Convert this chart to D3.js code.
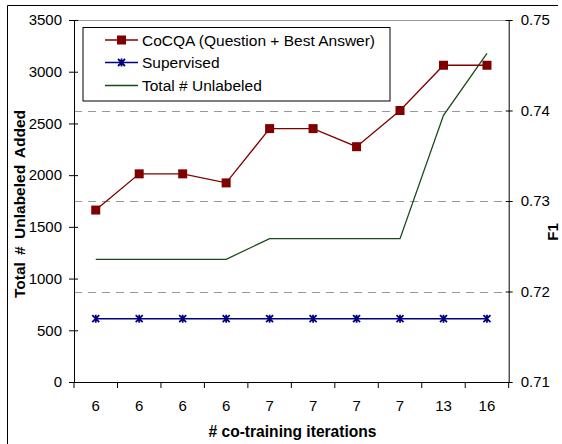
<!DOCTYPE html>
<html><head><meta charset="utf-8">
<script src="https://cdn.jsdelivr.net/npm/d3@7"></script>
<style>
html,body{margin:0;padding:0;background:#fff;}
svg{display:block;font-family:"Liberation Sans",Arial,sans-serif;}
</style></head>
<body>
<script>
const xLabels = ["6","6","6","6","7","7","7","7","13","16"];
const cocqaF1 = [0.729,0.733,0.733,0.732,0.738,0.738,0.736,0.740,0.745,0.745];
const supervisedF1 = [0.717,0.717,0.717,0.717,0.717,0.717,0.717,0.717,0.717,0.717];
const totalUnlabeled = [1186,1186,1186,1186,1386,1386,1386,1386,2578,3178];
const leftTicks = [0,500,1000,1500,2000,2500,3000,3500];
const rightTicks = [0.71,0.72,0.73,0.74,0.75];
const seriesNames = ["CoCQA (Question + Best Answer)","Supervised","Total # Unlabeled"];

const W=562,H=444;
const svg=d3.select("body").append("svg").attr("width",W).attr("height",H);
const X0=74,X1=508.7,YT=20,YB=382;

const x=d3.scaleBand().domain(d3.range(xLabels.length)).range([X0,X1]);
const yL=d3.scaleLinear().domain([0,3500]).range([YB,YT]);
const yR=d3.scaleLinear().domain([0.71,0.75]).range([YB,YT]);
const cx=i=>x(i)+x.bandwidth()/2;

// outer border (only left/top visible)
svg.append("line").attr("x1",7.5).attr("x2",7.5).attr("y1",5.5).attr("y2",H).attr("stroke","#000");
svg.append("line").attr("x1",7.5).attr("x2",558).attr("y1",5.5).attr("y2",5.5).attr("stroke","#000");

// gridlines (from right axis ticks)
rightTicks.forEach(t=>{
  if(t===0.71) return;
  const y=Math.round(yR(t))+0.5;
  svg.append("line").attr("x1",X0).attr("x2",X1).attr("y1",y).attr("y2",y)
    .attr("stroke","#999").attr("stroke-width",1)
    .attr("stroke-dasharray",t===0.75?null:"8,6");
});

// axes
const fs=15;
const gL=svg.append("g").attr("transform",`translate(${X0},0)`)
  .call(d3.axisLeft(yL).tickValues(leftTicks).tickFormat(d3.format("d")).tickSize(5).tickPadding(7).tickSizeOuter(0));
gL.selectAll(".tick line").attr("x2",-5).attr("x1",4);
const gR=svg.append("g").attr("transform",`translate(${X1},0)`)
  .call(d3.axisRight(yR).tickValues(rightTicks).tickSize(4).tickPadding(8).tickFormat(d3.format(".2f")).tickSizeOuter(0));
gR.selectAll(".tick line").attr("x1",-3).attr("x2",4);
const gB=svg.append("g").attr("transform",`translate(0,${YB})`)
  .call(d3.axisBottom(x).tickValues([]).tickSizeOuter(0));
// bottom tick marks at band edges
const edges=d3.range(xLabels.length+1).map(i=>X0+i*x.bandwidth());
gB.selectAll(".edge").data(edges).join("line").attr("class","edge")
  .attr("x1",d=>d).attr("x2",d=>d).attr("y1",0).attr("y2",6).attr("stroke","#000");
gB.selectAll(".lbl").data(xLabels).join("text").attr("class","lbl")
  .attr("x",(d,i)=>cx(i)).attr("y",29).attr("text-anchor","middle")
  .attr("font-size",fs).attr("fill","#000").text(d=>d);
[gL,gR,gB].forEach(g=>{
  g.selectAll("text").attr("font-size",fs).attr("fill","#000").attr("font-family","Liberation Sans, Arial, sans-serif");
  g.selectAll("path,line").attr("stroke","#000");
});

// titles
svg.append("text").attr("x",292.5).attr("y",437).attr("text-anchor","middle")
  .attr("font-size",15.6).attr("font-weight","bold").text("# co-training iterations");
svg.append("text").attr("transform","translate(25,204) rotate(-90)").attr("text-anchor","middle")
  .attr("font-size",15.5).attr("font-weight","bold").attr("word-spacing",3).text("Total # Unlabeled Added");
svg.append("text").attr("transform","translate(558,232) rotate(-90)").attr("text-anchor","middle")
  .attr("font-size",15).attr("font-weight","bold").text("F1");

// series
const red="#800000",navy="#000080",green="#1a4a1a";
const lineR=d3.line().x((d,i)=>cx(i)).y(d=>yR(d));
const lineL=d3.line().x((d,i)=>cx(i)).y(d=>yL(d));

svg.append("path").attr("d",lineL(totalUnlabeled)).attr("fill","none").attr("stroke",green).attr("stroke-width",1.3);
svg.append("path").attr("d",lineR(supervisedF1)).attr("fill","none").attr("stroke",navy).attr("stroke-width",1.5);
svg.append("path").attr("d",lineR(cocqaF1)).attr("fill","none").attr("stroke",red).attr("stroke-width",1.3);

function star(g,xx,yy,s){
  const p=`M${xx-s},${yy-s}L${xx+s},${yy+s}M${xx-s},${yy+s}L${xx+s},${yy-s}M${xx},${yy-s-0.5}L${xx},${yy+s+0.5}`;
  g.append("path").attr("d",p).attr("stroke",navy).attr("stroke-width",1.8).attr("fill","none");
}
const gs=svg.append("g");
supervisedF1.forEach((d,i)=>star(gs,cx(i),yR(d),3.5));
svg.selectAll(".sq").data(cocqaF1).join("rect").attr("class","sq")
  .attr("x",(d,i)=>cx(i)-4.5).attr("y",d=>yR(d)-4.5).attr("width",9).attr("height",9).attr("fill",red);

// legend
const lg=svg.append("g");
lg.append("rect").attr("x",83).attr("y",27.5).attr("width",307).attr("height",73.5)
  .attr("fill","#fff").attr("stroke","#000").attr("stroke-width",1);
const ly=[40,62.5,85.5];
const cols=[red,navy,green];
seriesNames.forEach((n,i)=>{
  lg.append("line").attr("x1",105).attr("x2",138).attr("y1",ly[i]).attr("y2",ly[i]).attr("stroke",cols[i]).attr("stroke-width",i===1?1.5:1.3);
  lg.append("text").attr("x",142).attr("y",ly[i]+5.5).attr("font-size",15.5).text(n);
});
lg.append("rect").attr("x",121.5-4.5).attr("y",ly[0]-4.5).attr("width",9).attr("height",9).attr("fill",red);
star(lg,121.5,ly[1],3.5);
</script>
</body></html>
